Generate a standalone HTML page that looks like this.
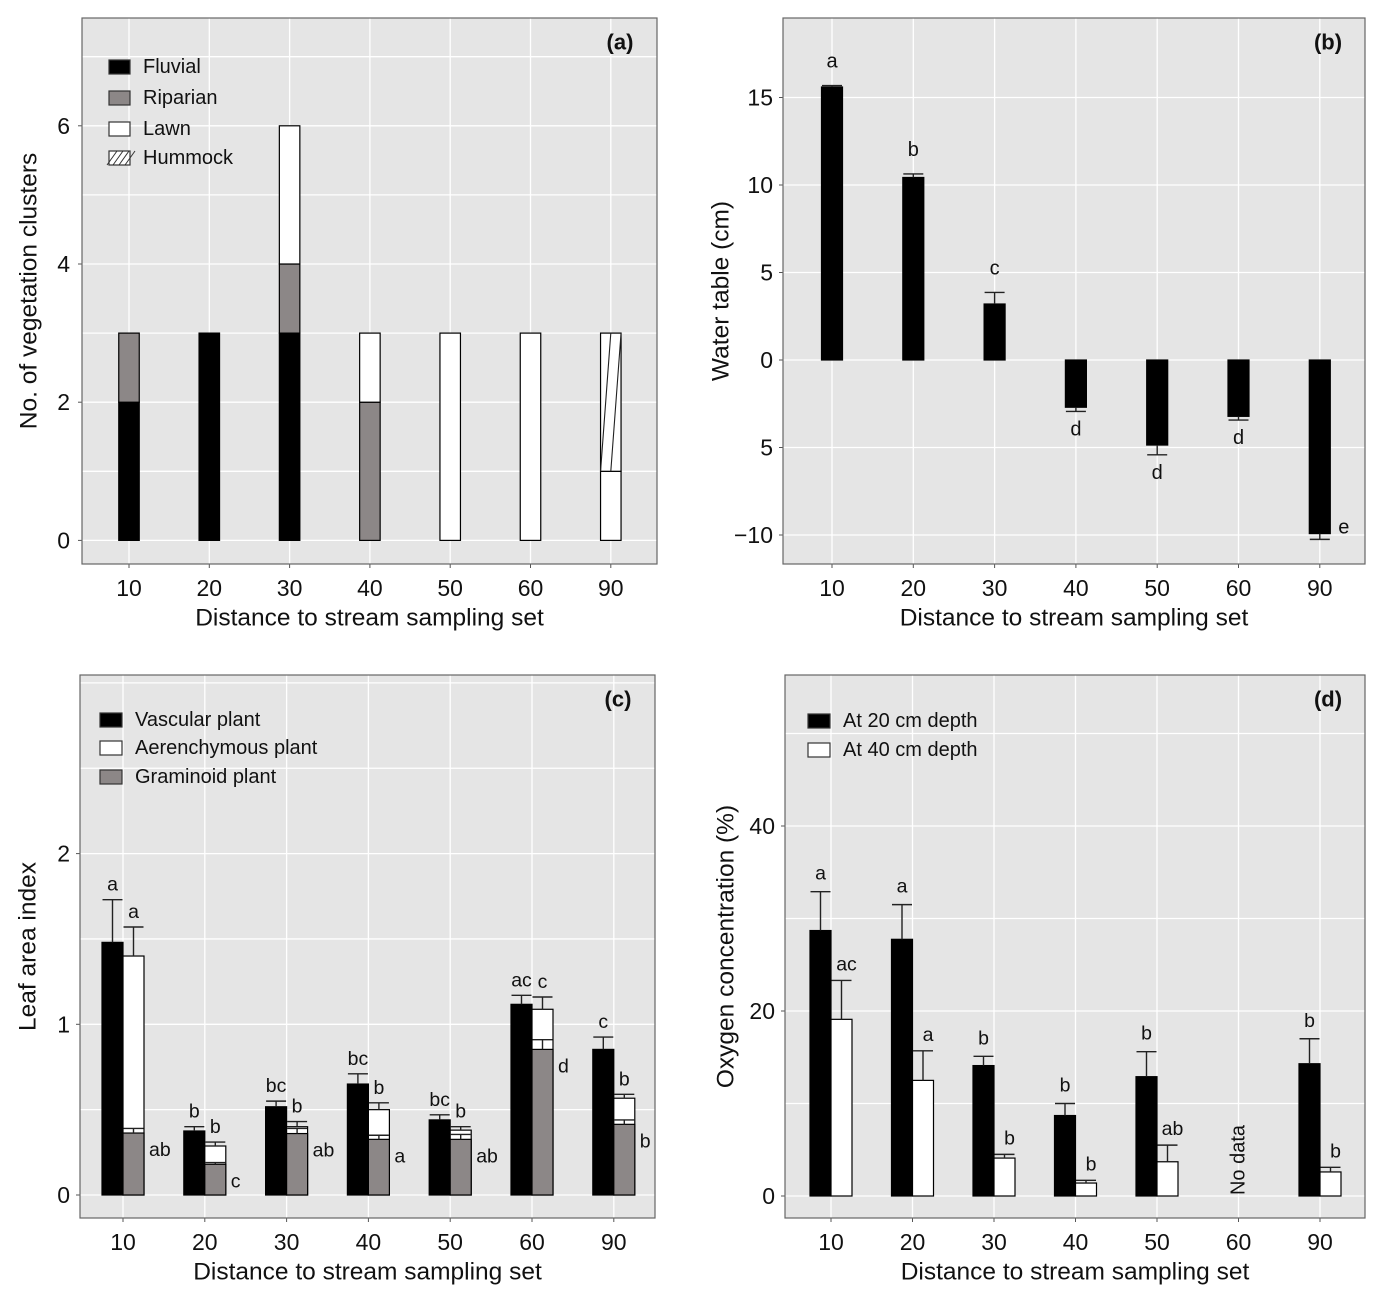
<!DOCTYPE html>
<html><head><meta charset="utf-8"><style>
html,body{margin:0;padding:0;background:#fff;}
svg{display:block;font-family:"Liberation Sans",Arial,sans-serif;}
</style></head><body>
<svg id="chart" width="1384" height="1306" viewBox="0 0 1384 1306" xmlns="http://www.w3.org/2000/svg"></svg>
<script>
const cats = ["10","20","30","40","50","60","90"];
// Panel a
const fluvial = [2,3,3,0,0,0,0];
const riparian = [1,0,1,2,0,0,0];
const lawn = [0,0,2,1,3,3,1];
const hummock = [0,0,0,0,0,0,2];
const aTicks = [0,2,4,6];
// Panel b
const waterTable = [15.6,10.43,3.2,-2.7,-4.86,-3.22,-9.92];
const waterErr = [15.68,10.63,3.86,-2.94,-5.42,-3.43,-10.25];
const waterLetters = ["a","b","c","d","d","d","e"];
const bTicks = [15,10,5,0,-5,-10];
const bTickLabels = ["15","10","5","0","5","\u221210"];
// Panel c
const vascular = [1.48,0.375,0.517,0.65,0.44,1.117,0.853];
const vascularErr = [1.73,0.40,0.55,0.71,0.47,1.17,0.925];
const aeren = [1.40,0.287,0.40,0.50,0.38,1.088,0.567];
const aerenErr = [1.57,0.31,0.43,0.54,0.40,1.16,0.59];
const gram = [0.363,0.18,0.36,0.326,0.326,0.853,0.414];
const gramErr = [0.39,0.19,0.39,0.35,0.355,0.91,0.44];
const vascLetters = ["a","b","bc","bc","bc","ac","c"];
const aerLetters = ["a","b","b","b","b","c","b"];
const gramLetters = ["ab","c","ab","a","ab","d","b"];
const cTicks = [0,1,2];
// Panel d
const oxy20 = [28.7,27.75,14.1,8.7,12.9,null,14.3];
const oxy20Err = [32.9,31.5,15.1,10.0,15.6,null,17.0];
const oxy40 = [19.1,12.5,4.1,1.4,3.7,null,2.6];
const oxy40Err = [23.3,15.7,4.5,1.7,5.5,null,3.1];
const oxy20Letters = ["a","a","b","b","b","","b"];
const oxy40Letters = ["ac","a","b","b","ab","","b"];
const dTicks = [0,20,40];

const svg = document.getElementById('chart');
const NS = "http://www.w3.org/2000/svg";
function mk(tag, attrs, parent){
  const e = document.createElementNS(NS, tag);
  for (const k in attrs) e.setAttribute(k, attrs[k]);
  (parent||svg).appendChild(e);
  return e;
}
function txt(s, x, y, size, anchor, parent, extra){
  const t = mk('text', Object.assign({x:x, y:y, 'font-size':size, 'text-anchor':anchor||'middle', 'dominant-baseline':'central', fill:'#111'}, extra||{}), parent);
  t.textContent = s;
  return t;
}
const BG = "#e5e5e5", GRAY = "#8c8787";

function panel(name, box, xs, ys, gridVals, tickVals, tickLabels, tickX, ytitle, ytitleX, tag){
  const g = mk('g', {});
  
  
  const bg = mk('rect', {x:box[0], y:box[1], width:box[2]-box[0], height:box[3]-box[1], fill:BG}, g);
  
  
  gridVals.forEach(v => {
    const l = mk('line', {x1:box[0], x2:box[2], y1:ys(v), y2:ys(v), stroke:'#fff', 'stroke-width':1.3}, g);
    
    
  });
  cats.forEach((c,i) => {
    const l = mk('line', {x1:xs(i), x2:xs(i), y1:box[1], y2:box[3], stroke:'#fff', 'stroke-width':1.3}, g);
    
    
    const tk = mk('line', {x1:xs(i), x2:xs(i), y1:box[3], y2:box[3]+4, stroke:'#555'}, g);
    
    
    const t = txt(c, xs(i), box[3]+24, 23, 'middle', g);
    
    
  });
  tickVals.forEach((v,i) => {
    const tk = mk('line', {x1:box[0]-4, x2:box[0], y1:ys(v), y2:ys(v), stroke:'#555'}, g);
    
    
    const t = txt(tickLabels[i], tickX, ys(v), 23, 'end', g);
    
    
  });
  const xt = txt('Distance to stream sampling set', (box[0]+box[2])/2, box[3]+54, 24.5, 'middle', g);
  
  
  const cy = (box[1]+box[3])/2;
  const yt = txt(ytitle, ytitleX, cy, 24.5, 'middle', g, {transform:`rotate(-90 ${ytitleX} ${cy})`});
  
  
  const pt = txt(tag, box[2]-37, box[1]+24, 22, 'middle', g, {'font-weight':'bold'});
  
  
  return g;
}
function frame(box, g){
  const f = mk('rect', {x:box[0], y:box[1], width:box[2]-box[0], height:box[3]-box[1], fill:'none', stroke:'#666', 'stroke-width':1.2}, g);
  
  
}
function bar(g, x0, w, y1, y2, fill, name){
  const r = mk('rect', {x:x0, y:Math.min(y1,y2), width:w, height:Math.abs(y2-y1), fill:fill, stroke:'#000', 'stroke-width':1.2}, g);
  
  
  return r;
}
function errbar(g, x, y1, y2, cap){
  const e = mk('path', {d:`M${x},${y1}V${y2}M${x-cap},${y2}H${x+cap}`, stroke:'#222', 'stroke-width':1.4, fill:'none'}, g);
  
  
}
function legendEntry(g, x, y, w, h, fill, label, hatch){
  const r = mk('rect', {x:x, y:y-h/2, width:w, height:h, fill:fill, stroke:'#333', 'stroke-width':1.2}, g);
  
  
  if (hatch){
    for (let k=0;k<4;k++){
      const l = mk('line', {x1:x+k*6-2, y1:y+h/2, x2:x+k*6+8, y2:y-h/2, stroke:'#333', 'stroke-width':1}, g);
      
      
    }
    r.setAttribute('fill','#fff');
  }
  const t = txt(label, x+w+13, y, 20, 'start', g);
  
  
}

// ---------- Panel a ----------
const boxA = [82,18,657,564];
const xA = i => 129 + i*80.3;
const yA = v => 540.4 - v*69.1;
const gA = panel('panel-a-vegetation-clusters', boxA, xA, yA, [0,1,2,3,4,5,6,7], aTicks, aTicks.map(String), 70, 'No. of vegetation clusters', 29, '(a)');
cats.forEach((c,i) => {
  const w = 20.5, x0 = xA(i)-w/2;
  let base = 0;
  const layers = [[fluvial,'#000','bar-fluvial'],[riparian,GRAY,'bar-riparian'],[lawn,'#fff','bar-lawn'],[hummock,'#fff','bar-hummock']];
  layers.forEach(L => {
    const v = L[0][i];
    if (v>0){
      bar(gA, x0, w, yA(base), yA(base+v), L[1], L[2]);
      if (L[2]==='bar-hummock'){
        const y0 = yA(base), y1 = yA(base+v);
        const h1 = mk('path', {d:`M${x0},${y0}L${xA(i)},${y1}M${xA(i)},${y0}L${x0+w},${y1}`, stroke:'#222', 'stroke-width':1.1, fill:'none'}, gA);
        
        
      }
      base += v;
    }
  });
});
legendEntry(gA, 109, 67, 21, 14, '#000', 'Fluvial');
legendEntry(gA, 109, 98, 21, 14, GRAY, 'Riparian');
legendEntry(gA, 109, 129, 21, 14, '#fff', 'Lawn');
legendEntry(gA, 109, 158, 21, 14, '#fff', 'Hummock', true);
frame(boxA, gA);

// ---------- Panel b ----------
const boxB = [783,18,1365,564];
const xB = i => 832 + i*81.3;
const yB = v => 360 - v*17.5;
const gB = panel('panel-b-water-table', boxB, xB, yB, bTicks, bTicks, bTickLabels, 773, 'Water table (cm)', 721, '(b)');
cats.forEach((c,i) => {
  const w = 21, x0 = xB(i)-w/2, v = waterTable[i];
  bar(gB, x0, w, yB(0), yB(v), '#000', 'bar-water-table');
  errbar(gB, xB(i), yB(v), yB(waterErr[i]), 10);
  let lx = xB(i), ly;
  if (i === cats.length-1){ lx = xB(i)+24; ly = yB(v)-6; }
  else ly = v >= 0 ? yB(waterErr[i]) - 24 : yB(waterErr[i]) + 18;
  const t = txt(waterLetters[i], lx, ly, 20, 'middle', gB);
  
  
});
frame(boxB, gB);

// ---------- Panel c ----------
const boxC = [80,675,655,1218];
const xC = i => 123 + i*81.8;
const yC = v => 1195 - v*170.7;
const gC = panel('panel-c-leaf-area-index', boxC, xC, yC, [0,0.5,1,1.5,2,2.5,3], cTicks, cTicks.map(String), 70, 'Leaf area index', 28, '(c)');
cats.forEach((c,i) => {
  const w = 21;
  bar(gC, xC(i)-w, w, yC(0), yC(vascular[i]), '#000', 'bar-vascular');
  errbar(gC, xC(i)-w/2, yC(vascular[i]), yC(vascularErr[i]), 10);
  bar(gC, xC(i), w, yC(0), yC(aeren[i]), '#fff', 'bar-aerenchymous');
  errbar(gC, xC(i)+w/2, yC(aeren[i]), yC(aerenErr[i]), 10);
  bar(gC, xC(i), w, yC(0), yC(gram[i]), GRAY, 'bar-graminoid');
  errbar(gC, xC(i)+w/2, yC(gram[i]), yC(gramErr[i]), 10);
  const t1 = txt(vascLetters[i], xC(i)-w/2, yC(vascularErr[i])-15, 19.5, 'middle', gC);
  
  
  const t2 = txt(aerLetters[i], xC(i)+w/2, yC(aerenErr[i])-15, 19.5, 'middle', gC);
  
  
  const t3 = txt(gramLetters[i], xC(i)+w+5, yC(gram[i])+17, 19.5, 'start', gC);
  
  
});
legendEntry(gC, 100, 720, 22, 14, '#000', 'Vascular plant');
legendEntry(gC, 100, 748, 22, 14, '#fff', 'Aerenchymous plant');
legendEntry(gC, 100, 777, 22, 14, GRAY, 'Graminoid plant');
frame(boxC, gC);

// ---------- Panel d ----------
const boxD = [785,675,1365,1218];
const xD = i => 831 + i*81.5;
const yD = v => 1196 - v*9.25;
const gD = panel('panel-d-oxygen', boxD, xD, yD, [0,10,20,30,40,50], dTicks, dTicks.map(String), 775, 'Oxygen concentration (%)', 726, '(d)');
cats.forEach((c,i) => {
  const w = 21;
  if (oxy20[i] === null){
    const nd = txt('No data', xD(i), yD(0)-36, 20, 'middle', gD, {transform:`rotate(-90 ${xD(i)} ${yD(0)-36})`});
    
    
    return;
  }
  bar(gD, xD(i)-w, w, yD(0), yD(oxy20[i]), '#000', 'bar-oxygen-20cm');
  errbar(gD, xD(i)-w/2, yD(oxy20[i]), yD(oxy20Err[i]), 10);
  bar(gD, xD(i), w, yD(0), yD(oxy40[i]), '#fff', 'bar-oxygen-40cm');
  errbar(gD, xD(i)+w/2, yD(oxy40[i]), yD(oxy40Err[i]), 10);
  const t1 = txt(oxy20Letters[i], xD(i)-w/2, yD(oxy20Err[i])-18, 19.5, 'middle', gD);
  
  
  const t2 = txt(oxy40Letters[i], xD(i)+w/2+5, yD(oxy40Err[i])-16, 19.5, 'middle', gD);
  
  
});
legendEntry(gD, 808, 721, 22, 14, '#000', 'At 20 cm depth');
legendEntry(gD, 808, 750, 22, 14, '#fff', 'At 40 cm depth');
frame(boxD, gD);
</script>
</body></html>
